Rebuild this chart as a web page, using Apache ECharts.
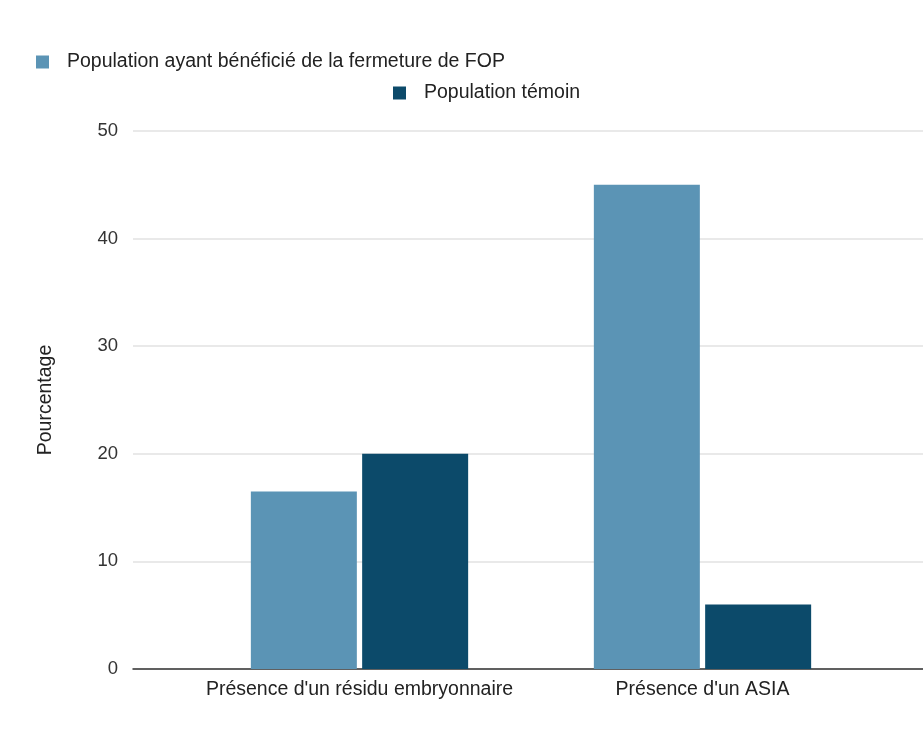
<!DOCTYPE html>
<html>
<head>
<meta charset="utf-8">
<script src="https://cdn.jsdelivr.net/npm/echarts@6/dist/echarts.min.js"></script>
<style>
  html, body { margin: 0; padding: 0; background: #ffffff; }
  #chart { width: 923px; height: 729px; }
</style>
</head>
<body>
<div id="chart"></div>
<script>
// Categories and values (percentages)
const categories = ["Présence d'un résidu embryonnaire", "Présence d'un ASIA"];
const seriesNames = ["Population ayant bénéficié de la fermeture de FOP", "Population témoin"];
const fopValues = [16.5, 45];
const controlValues = [20, 6];
const yTicks = { min: 0, max: 50, interval: 10 };

const colors = ['#5b94b5', '#0c4a6a'];
const font = 'Liberation Sans, Arial, sans-serif';

const chart = echarts.init(document.getElementById('chart'));
chart.setOption({
  animation: false,
  backgroundColor: '#ffffff',
  legend: [
    {
      data: [seriesNames[0]],
      left: 31, top: 47,
      icon: 'rect', itemWidth: 13, itemHeight: 13,
      textStyle: { fontFamily: font, fontSize: 19.5, color: '#222', padding: [0, 0, 0, 13] }
    },
    {
      data: [seriesNames[1]],
      left: 388, top: 78,
      icon: 'rect', itemWidth: 13, itemHeight: 13,
      textStyle: { fontFamily: font, fontSize: 19.5, color: '#222', padding: [0, 0, 0, 13] }
    }
  ],
  grid: [
    // frame for the value scale, gridlines and baseline
    { left: 133, right: 0, top: 131, bottom: 60 },
    // band area holding the bars
    { left: 188, width: 686, top: 131, bottom: 60 }
  ],
  xAxis: [
    {
      gridIndex: 0, type: 'category', data: [''],
      axisLine: { show: true, lineStyle: { color: '#333', width: 1.5 } },
      axisTick: { show: false }, axisLabel: { show: false }
    },
    {
      gridIndex: 1, type: 'category', data: categories,
      axisLine: { show: false }, axisTick: { show: false },
      axisLabel: { interval: 0, fontFamily: font, fontSize: 19.5, color: '#222', margin: 11 }
    }
  ],
  yAxis: [
    {
      gridIndex: 0, type: 'value',
      min: yTicks.min, max: yTicks.max, interval: yTicks.interval,
      name: 'Pourcentage', nameLocation: 'middle', nameGap: 77, nameRotate: 90,
      nameTextStyle: { fontFamily: font, fontSize: 19.5, color: '#222' },
      axisLine: { show: false }, axisTick: { show: false },
      axisLabel: { fontFamily: font, fontSize: 18.5, color: '#333', margin: 15 },
      splitLine: { lineStyle: { color: '#e2e2e2', width: 1.5 } }
    },
    {
      gridIndex: 1, type: 'value',
      min: yTicks.min, max: yTicks.max, interval: yTicks.interval,
      show: false, splitLine: { show: false }
    }
  ],
  series: [
    {
      name: seriesNames[0], type: 'bar', xAxisIndex: 1, yAxisIndex: 1,
      data: fopValues, barWidth: 106, barGap: '5%',
      itemStyle: { color: colors[0] }
    },
    {
      name: seriesNames[1], type: 'bar', xAxisIndex: 1, yAxisIndex: 1,
      data: controlValues, barWidth: 106,
      itemStyle: { color: colors[1] }
    }
  ]
});
</script>
</body>
</html>
